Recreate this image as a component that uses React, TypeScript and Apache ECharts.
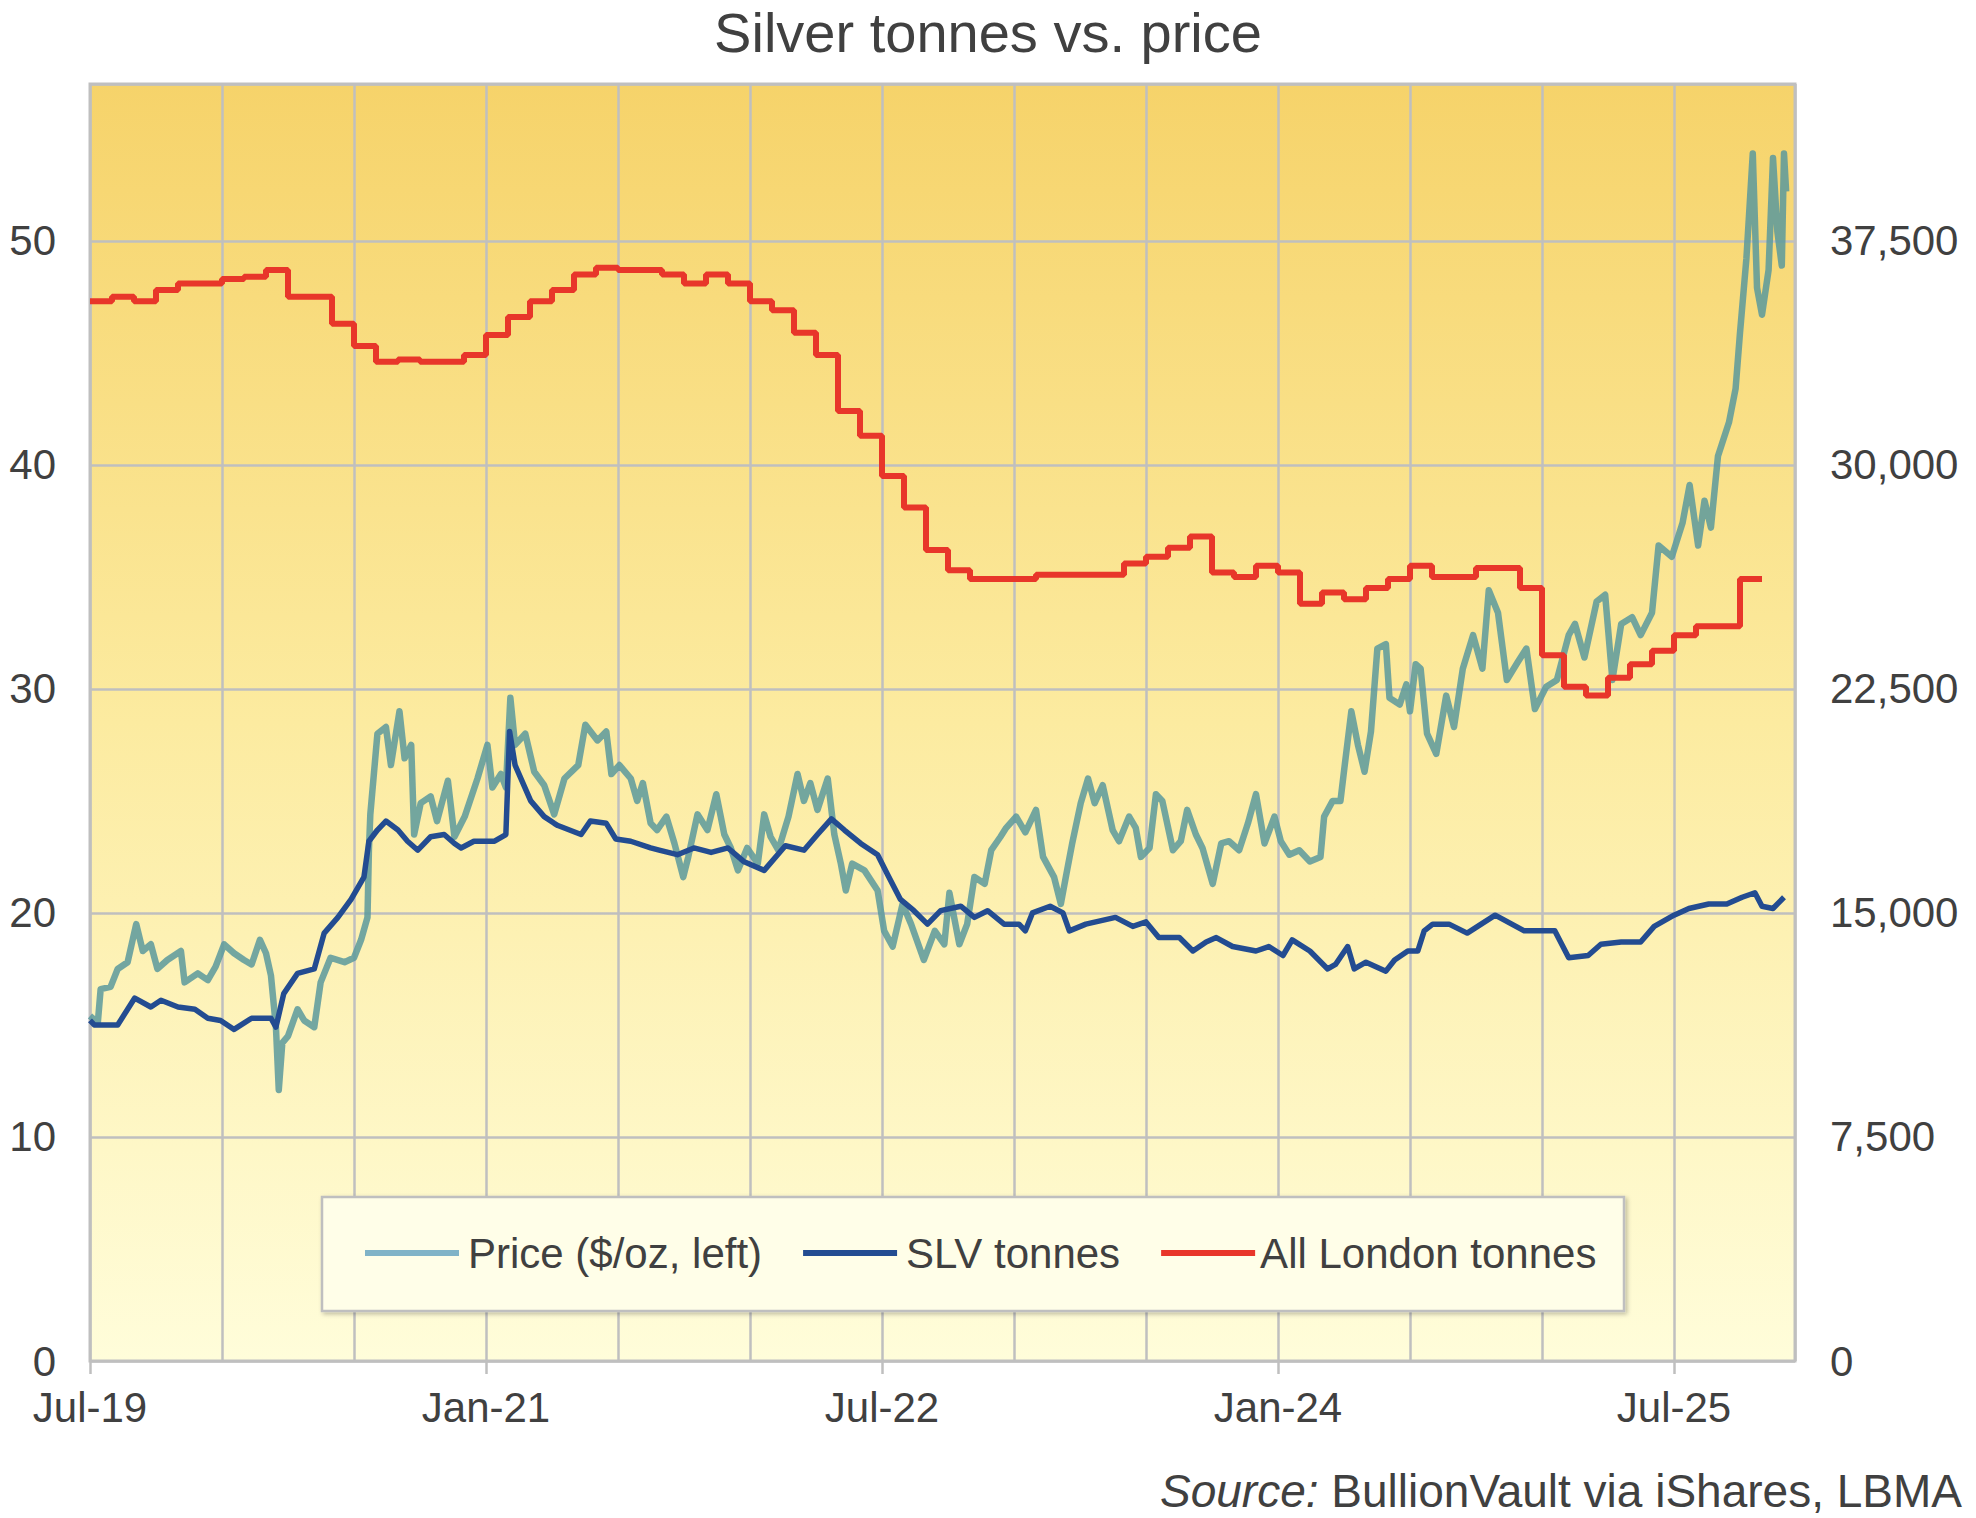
import React, { useEffect, useRef } from "react";
import * as echarts from "echarts";

// ---------------- data ----------------
const priceDates = [
  "2019-07-01","2019-07-12","2019-07-16","2019-07-30","2019-08-09","2019-08-23","2019-09-04","2019-09-13","2019-09-24","2019-10-03",
  "2019-10-17","2019-11-05","2019-11-10","2019-11-28","2019-12-12","2019-12-23","2020-01-04","2020-01-18","2020-02-01","2020-02-11",
  "2020-02-22","2020-03-01","2020-03-08","2020-03-15","2020-03-19","2020-03-24","2020-04-01","2020-04-14","2020-04-23","2020-05-07",
  "2020-05-16","2020-05-30","2020-06-18","2020-07-01","2020-07-11","2020-07-20","2020-07-22","2020-07-24","2020-08-03","2020-08-15",
  "2020-08-22","2020-09-03","2020-09-10","2020-09-19","2020-09-23","2020-10-02","2020-10-16","2020-10-25","2020-11-09","2020-11-18",
  "2020-12-02","2020-12-20","2021-01-03","2021-01-10","2021-01-22","2021-01-29","2021-02-04","2021-02-10","2021-02-23","2021-03-07",
  "2021-03-21","2021-04-04","2021-04-18","2021-05-07","2021-05-17","2021-06-03","2021-06-15","2021-06-22","2021-07-03","2021-07-19",
  "2021-07-28","2021-08-05","2021-08-16","2021-08-25","2021-09-07","2021-09-18","2021-09-30","2021-10-07","2021-10-20","2021-11-03",
  "2021-11-15","2021-11-26","2021-12-05","2021-12-15","2021-12-28","2022-01-12","2022-01-21","2022-01-30","2022-02-09","2022-02-22",
  "2022-03-06","2022-03-15","2022-03-24","2022-04-03","2022-04-17","2022-04-26","2022-05-05","2022-05-12","2022-05-21","2022-06-07",
  "2022-06-25","2022-07-04","2022-07-16","2022-07-30","2022-08-11","2022-08-29","2022-09-13","2022-09-26","2022-10-03","2022-10-17",
  "2022-10-28","2022-11-07","2022-11-21","2022-11-30","2022-12-13","2022-12-21","2023-01-04","2023-01-17","2023-02-01","2023-02-10",
  "2023-02-24","2023-03-05","2023-03-12","2023-03-21","2023-04-02","2023-04-12","2023-04-21","2023-05-02","2023-05-16","2023-05-25",
  "2023-06-08","2023-06-17","2023-06-24","2023-07-06","2023-07-15","2023-07-24","2023-08-08","2023-08-19","2023-08-28","2023-09-09",
  "2023-09-18","2023-10-02","2023-10-14","2023-10-25","2023-11-08","2023-11-20","2023-12-01","2023-12-13","2023-12-27","2024-01-05",
  "2024-01-17","2024-01-31","2024-02-14","2024-02-28","2024-03-04","2024-03-16","2024-03-27","2024-04-02","2024-04-11","2024-04-20",
  "2024-04-29","2024-05-08","2024-05-17","2024-05-29","2024-06-03","2024-06-17","2024-06-26","2024-07-01","2024-07-09","2024-07-16",
  "2024-07-25","2024-08-07","2024-08-21","2024-09-01","2024-09-13","2024-09-27","2024-10-10","2024-10-19","2024-11-01","2024-11-13",
  "2024-11-28","2024-12-10","2024-12-22","2025-01-07","2025-01-22","2025-02-07","2025-02-15","2025-02-27","2025-03-16","2025-03-28",
  "2025-04-07","2025-04-19","2025-05-04","2025-05-16","2025-06-01","2025-06-10","2025-06-28","2025-07-13","2025-07-23","2025-08-04",
  "2025-08-13","2025-08-22","2025-09-01","2025-09-16","2025-09-25","2025-10-01","2025-10-10","2025-10-19","2025-10-25","2025-11-01",
  "2025-11-10","2025-11-16","2025-11-22","2025-11-28","2025-12-01","2025-12-04",
];
const priceUsd = [
  15.4,15.1,16.6,16.7,17.5,17.8,19.5,18.3,18.6,17.5,
  17.9,18.3,16.9,17.3,17.0,17.6,18.6,18.2,17.9,17.7,
  18.8,18.2,17.2,14.9,12.1,14.2,14.5,15.7,15.2,14.9,
  16.9,18.0,17.8,18.0,18.8,19.8,22.8,24.4,28.0,28.3,
  26.6,29.0,26.9,27.5,23.5,24.9,25.2,24.1,25.9,23.4,
  24.3,26.0,27.5,25.6,26.2,25.6,29.6,27.5,28.0,26.3,
  25.7,24.4,26.0,26.6,28.4,27.7,28.1,26.2,26.6,26.0,
  25.0,25.8,24.0,23.7,24.3,23.1,21.6,22.5,24.4,23.7,
  25.3,23.5,22.9,21.9,22.9,22.2,24.4,23.4,22.8,24.3,
  26.2,25.0,25.8,24.6,26.0,23.5,22.2,21.0,22.2,21.9,
  21.0,19.2,18.5,20.4,19.5,17.9,19.2,18.6,20.9,18.6,
  19.5,21.6,21.3,22.8,23.4,23.8,24.3,23.6,24.6,22.5,
  21.6,20.4,21.6,23.1,24.9,26.0,24.9,25.7,23.7,23.2,
  24.3,23.8,22.5,22.9,25.3,25.0,22.8,23.2,24.6,23.5,
  22.9,21.3,23.1,23.2,22.8,24.0,25.3,23.1,24.3,23.2,
  22.6,22.8,22.3,22.5,24.3,25.0,25.0,26.6,29.0,27.5,
  26.3,28.1,31.8,32.0,29.6,29.3,30.2,29.0,31.1,30.9,
  28.0,27.1,29.7,28.3,30.9,32.4,30.9,34.4,33.4,30.4,
  31.2,31.8,29.1,30.1,30.4,32.4,32.9,31.4,33.9,34.2,
  30.4,32.9,33.2,32.4,33.4,36.4,35.9,37.4,39.1,36.4,
  38.4,37.2,40.4,41.9,43.4,45.9,49.2,53.9,47.9,46.7,
  48.7,53.7,50.4,48.9,53.9,52.2,
];

const slvDates = [
  "2019-07-01","2019-07-07","2019-08-09","2019-09-02","2019-09-24","2019-10-08","2019-11-01","2019-11-24","2019-12-12","2019-12-30",
  "2020-01-18","2020-02-11","2020-03-08","2020-03-15","2020-03-26","2020-04-14","2020-05-07","2020-05-21","2020-06-09","2020-06-27",
  "2020-07-15","2020-07-22","2020-08-03","2020-08-15","2020-09-01","2020-09-14","2020-09-28","2020-10-16","2020-11-04","2020-11-18",
  "2020-11-27","2020-12-15","2021-01-13","2021-01-29","2021-02-03","2021-02-10","2021-03-02","2021-03-21","2021-04-04","2021-04-09",
  "2021-05-11","2021-05-24","2021-06-15","2021-06-28","2021-07-19","2021-08-16","2021-08-28","2021-09-22","2021-10-15","2021-11-08",
  "2021-12-01","2021-12-23","2022-01-21","2022-02-18","2022-03-15","2022-04-03","2022-04-22","2022-05-10","2022-06-02","2022-06-25",
  "2022-07-09","2022-07-27","2022-08-15","2022-09-03","2022-09-21","2022-10-19","2022-11-07","2022-11-25","2022-12-18","2023-01-08",
  "2023-01-17","2023-01-27","2023-02-19","2023-03-08","2023-03-17","2023-04-09","2023-05-20","2023-06-13","2023-07-01","2023-07-19",
  "2023-08-17","2023-09-05","2023-09-23","2023-10-07","2023-10-30","2023-12-01","2023-12-19","2024-01-08","2024-01-21","2024-02-14",
  "2024-03-09","2024-03-20","2024-04-06","2024-04-15","2024-05-01","2024-05-29","2024-06-10","2024-06-28","2024-07-12","2024-07-21",
  "2024-08-02","2024-08-25","2024-09-19","2024-10-28","2024-12-07","2025-01-19","2025-02-07","2025-03-04","2025-03-22","2025-04-19",
  "2025-05-16","2025-06-04","2025-07-01","2025-07-22","2025-08-19","2025-09-13","2025-10-04","2025-10-22","2025-11-01","2025-11-16",
  "2025-12-01",
];
const slvTonnes = [
  11400,11250,11250,12150,11850,12075,11850,11775,11475,11400,
  11100,11475,11475,11175,12300,12975,13125,14325,14850,15450,
  16200,17400,17775,18075,17775,17400,17100,17550,17625,17325,
  17175,17400,17400,17625,21075,19950,18750,18225,18000,17925,
  17625,18075,18000,17475,17400,17175,17100,16950,17175,17025,
  17175,16725,16425,17250,17100,17625,18150,17775,17325,16950,
  16275,15450,15075,14625,15075,15225,14850,15075,14625,14625,
  14400,15000,15225,15000,14400,14625,14850,14550,14700,14175,
  14175,13725,14025,14175,13875,13725,13875,13575,14100,13725,
  13125,13275,13875,13125,13350,13050,13425,13725,13725,14400,
  14625,14625,14325,14925,14400,14400,13500,13575,13950,14025,
  14025,14550,14925,15150,15300,15300,15525,15675,15225,15150,
  15525,
];

// All London vault holdings, one value per month starting July 2019
const londonStart = "2019-07-01";
const londonTonnes = [
  35475,35625,35475,35850,36075,36075,36225,36300,36525,35625,
  35625,34725,33975,33450,33525,33450,33450,33675,34350,34950,
  35475,35850,36375,36600,36525,36525,36375,36075,36375,36075,
  35475,35175,34425,33675,31800,30975,29625,28575,27150,26475,
  26175,26175,26175,26325,26325,26325,26325,26700,26925,27225,
  27600,26400,26250,26625,26400,25350,25725,25500,25875,26175,
  26625,26250,26250,26550,26550,25875,23625,22575,22275,22875,
  23325,23775,24300,24600,24600,26175,
];

const leftAxisMax = 57;
const leftInterval = 10;
const rightAxisMax = 42750;
const rightInterval = 7500;
const xAxisMaxMonths = 77.5; // months after Jul-2019 (mid Dec 2025)
const gridStepMonths = 6;
const labelMonths = [0, 18, 36, 54, 72];
const monthNames = ["Jan","Feb","Mar","Apr","May","Jun","Jul","Aug","Sep","Oct","Nov","Dec"];

const seriesNames = ["Price ($/oz, left)", "SLV tonnes", "All London tonnes"];

// ---------------- helpers ----------------
function monthsSinceStart(d: string): number {
  const [y, m, day] = d.split("-").map(Number);
  const dim = new Date(y, m, 0).getDate();
  return (y - 2019) * 12 + (m - 7) + (day - 1) / dim;
}
function monthLabel(v: number): string {
  if (Math.abs(v - Math.round(v)) > 1e-6) return "";
  const total = 6 + Math.round(v);
  const y = 2019 + Math.floor(total / 12);
  return monthNames[total % 12] + "-" + String(y).slice(2);
}

const FONT = "'Liberation Sans', Arial, Helvetica, sans-serif";
const TEXT = "#404040";
const GRIDC = "#BFBFBF";
const PRICE_C = "#5A999C";
const SLV_C = "#234C91";
const LON_C = "#E8362A";

export default function App() {
  const ref = useRef<HTMLDivElement>(null);

  useEffect(() => {
    if (!ref.current) return;
    const chart = echarts.init(ref.current, undefined, { renderer: "svg" });

    const priceData = priceDates.map((d, i) => [monthsSinceStart(d), priceUsd[i]]);
    const slvData = slvDates.map((d, i) => [monthsSinceStart(d), slvTonnes[i]]);
    const london0 = monthsSinceStart(londonStart);
    const londonData = londonTonnes.map((v, i) => [london0 + i, v]);
    londonData.push([london0 + londonTonnes.length, londonTonnes[londonTonnes.length - 1]]);

    const option: any = {
      animation: false,
      backgroundColor: "#ffffff",
      title: {
        text: "Silver tonnes vs. price",
        left: "center",
        top: 0,
        padding: 0,
        textStyle: { fontFamily: FONT, fontSize: 56, lineHeight: 64, fontWeight: "normal", color: TEXT },
      },
      grid: {
        left: 90,
        right: 181,
        top: 84,
        bottom: 157,
        show: true,
        borderColor: GRIDC,
        borderWidth: 3,
        backgroundColor: new echarts.graphic.LinearGradient(0, 0, 0, 1, [
          { offset: 0, color: "#F6D36A" },
          { offset: 0.5, color: "#FCEBA0" },
          { offset: 1, color: "#FFFDDA" },
        ]),
        outerBoundsMode: "none",
        containLabel: false,
      },
      legend: {
        left: 365,
        top: 1228,
        padding: 0,
        itemGap: 41,
        itemWidth: 94,
        itemHeight: 6,
        icon: "rect",
        z: 5,
        textStyle: { fontFamily: FONT, fontSize: 42, color: TEXT, lineHeight: 50, padding: [0, 0, 0, 4] },
        data: [
          { name: seriesNames[0], itemStyle: { color: "#80B3C7" } },
          { name: seriesNames[1], itemStyle: { color: SLV_C } },
          {
            name: seriesNames[2],
            itemStyle: { color: LON_C },
            textStyle: { fontFamily: FONT, fontSize: 42, color: TEXT, lineHeight: 50, padding: [0, 0, 0, 0] },
          },
        ],
      },
      graphic: [
        {
          type: "rect",
          z: 3,
          shape: { x: 322, y: 1197, width: 1302, height: 114 },
          style: {
            fill: "#FFFEE8",
            stroke: "#BFBFBF",
            lineWidth: 2.5,
            shadowBlur: 4,
            shadowOffsetX: 2,
            shadowOffsetY: 2,
            shadowColor: "rgba(0,0,0,0.25)",
          },
        },
        {
          type: "text",
          z: 5,
          x: 1962,
          y: 1491,
          style: {
            text: "{i|Source:} BullionVault via iShares, LBMA",
            align: "right",
            verticalAlign: "middle",
            fontFamily: FONT,
            fontSize: 46,
            lineHeight: 46,
            fill: TEXT,
            rich: { i: { fontStyle: "italic", fontFamily: FONT, fontSize: 46, lineHeight: 46, fill: TEXT } },
          },
        },
      ],
      xAxis: [
        {
          type: "value",
          min: 0,
          max: xAxisMaxMonths,
          interval: gridStepMonths,
          axisLine: { show: false },
          axisTick: { show: false },
          axisLabel: { show: false },
          splitLine: { show: true, lineStyle: { color: GRIDC, width: 2.5 } },
        },
        {
          type: "value",
          position: "bottom",
          min: 0,
          max: xAxisMaxMonths,
          interval: 18,
          axisLine: { show: false },
          axisTick: {
            show: true,
            length: 13,
            customValues: labelMonths,
            lineStyle: { color: GRIDC, width: 2.5 },
          },
          axisLabel: {
            show: true,
            customValues: labelMonths,
            margin: 25,
            fontFamily: FONT,
            fontSize: 42,
            color: TEXT,
            formatter: (v: number) => monthLabel(v),
          },
          splitLine: { show: false },
        },
      ],
      yAxis: [
        {
          type: "value",
          min: 0,
          max: leftAxisMax,
          interval: leftInterval,
          axisLine: { show: false },
          axisTick: { show: false },
          axisLabel: {
            margin: 34,
            fontFamily: FONT,
            fontSize: 42,
            color: TEXT,
            formatter: (v: number) => (v === leftAxisMax ? "" : String(v)),
          },
          splitLine: { show: true, lineStyle: { color: GRIDC, width: 2.5 } },
        },
        {
          type: "value",
          position: "right",
          min: 0,
          max: rightAxisMax,
          interval: rightInterval,
          axisLine: { show: false },
          axisTick: { show: false },
          axisLabel: {
            margin: 35,
            fontFamily: FONT,
            fontSize: 42,
            color: TEXT,
            formatter: (v: number) => (v === rightAxisMax ? "" : v.toLocaleString("en-US")),
          },
          splitLine: { show: false },
        },
      ],
      series: [
        {
          name: seriesNames[0],
          type: "line",
          xAxisIndex: 0,
          yAxisIndex: 0,
          data: priceData,
          symbol: "none",
          color: PRICE_C,
          lineStyle: { color: PRICE_C, width: 6.5, opacity: 0.85, join: "round" },
          z: 2,
        },
        {
          name: seriesNames[1],
          type: "line",
          xAxisIndex: 0,
          yAxisIndex: 1,
          data: slvData,
          symbol: "none",
          color: SLV_C,
          lineStyle: { color: SLV_C, width: 5.5, join: "round" },
          z: 3,
        },
        {
          name: seriesNames[2],
          type: "line",
          xAxisIndex: 0,
          yAxisIndex: 1,
          data: londonData,
          step: "end",
          symbol: "none",
          color: LON_C,
          lineStyle: { color: LON_C, width: 6 },
          z: 4,
        },
      ],
    };

    chart.setOption(option);
    return () => chart.dispose();
  }, []);

  return (
    <div
      ref={ref}
      style={{ position: "fixed", left: 0, top: 0, width: 1976, height: 1518, background: "#fff" }}
    />
  );
}
